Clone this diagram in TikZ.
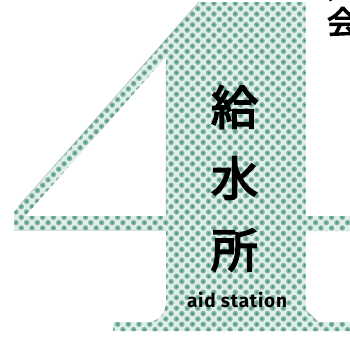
\documentclass[tikz,border=0pt]{standalone}
\usepackage{fontspec}
\newfontfamily\cjk[FakeBold=3.5]{Noto Sans CJK JP}
\newfontfamily\latn[LetterSpace=4]{Fira Sans}
\definecolor{halfbg}{HTML}{DDF0E9}
\definecolor{halfdot}{HTML}{8FB3A9}
\definecolor{halfcore}{HTML}{3F9D84}
\definecolor{edgegray}{HTML}{9DB5AE}
\tikzset{
  kanji/.style={font=\cjk\fontsize{47}{47}\selectfont,text=black,inner sep=0pt},
  small/.style={font=\latn\bfseries\fontsize{19}{19}\selectfont,text=black,inner sep=0pt},
  head/.style={font=\cjk\fontsize{32}{32}\selectfont,text=black,inner sep=0pt}
}
\begin{document}
\begin{tikzpicture}[x=1pt,y=-1pt]
\useasboundingbox (0,0) rectangle (350,338);
\fill[white] (0,0) rectangle (350,338);
\def\shape{(14,212) -- (199,2) -- (305.5,2) -- (305.5,216) -- (350,216) -- (350,231) -- (305.5,231) -- (305.5,310) -- (318,322) -- (350,322) -- (350,331) -- (113,331) -- (113,322) -- (150,322) .. controls (160,320) and (166,312) .. (166,302) -- (166,230) -- (14,230) -- cycle (25,216) -- (166,57) -- (166,216) -- cycle}
\fill[halfbg,even odd rule] \shape;
\begin{scope}[even odd rule]
\clip \shape;
\foreach \k in {0,...,61}{
  \pgfmathsetmacro{\off}{mod(\k,2)==0 ? 0 : 5.35}
  \pgfmathsetmacro{\yy}{3.3+5.35*\k}
  \foreach \n in {0,...,32}{
    \pgfmathsetmacro{\xx}{10.6+\off+10.7*\n}
    \fill[halfdot] (\xx,\yy) circle (2.8);
    \fill[halfcore] (\xx,\yy) circle (1.4);
  }
}
\end{scope}
\draw[edgegray,line width=0.5pt] (14,230) -- (166,230) (18,207) -- (199,2) (166,60) -- (166,216) (305.5,310) -- (318,322);
\node[kanji] (a) at (234.5,107) {給};
\node[kanji] (b) at (234.5,178) {水};
\node[kanji] (c) at (234.5,250) {所};
\node[small] (d) at (237,300) {aid station};
\begin{scope}
\clip (0,0) rectangle (350,338);
\node[head] (e) at (343,-14) {大};
\node[head] (f) at (343,22) {会};
\end{scope}
\end{tikzpicture}
\end{document}
